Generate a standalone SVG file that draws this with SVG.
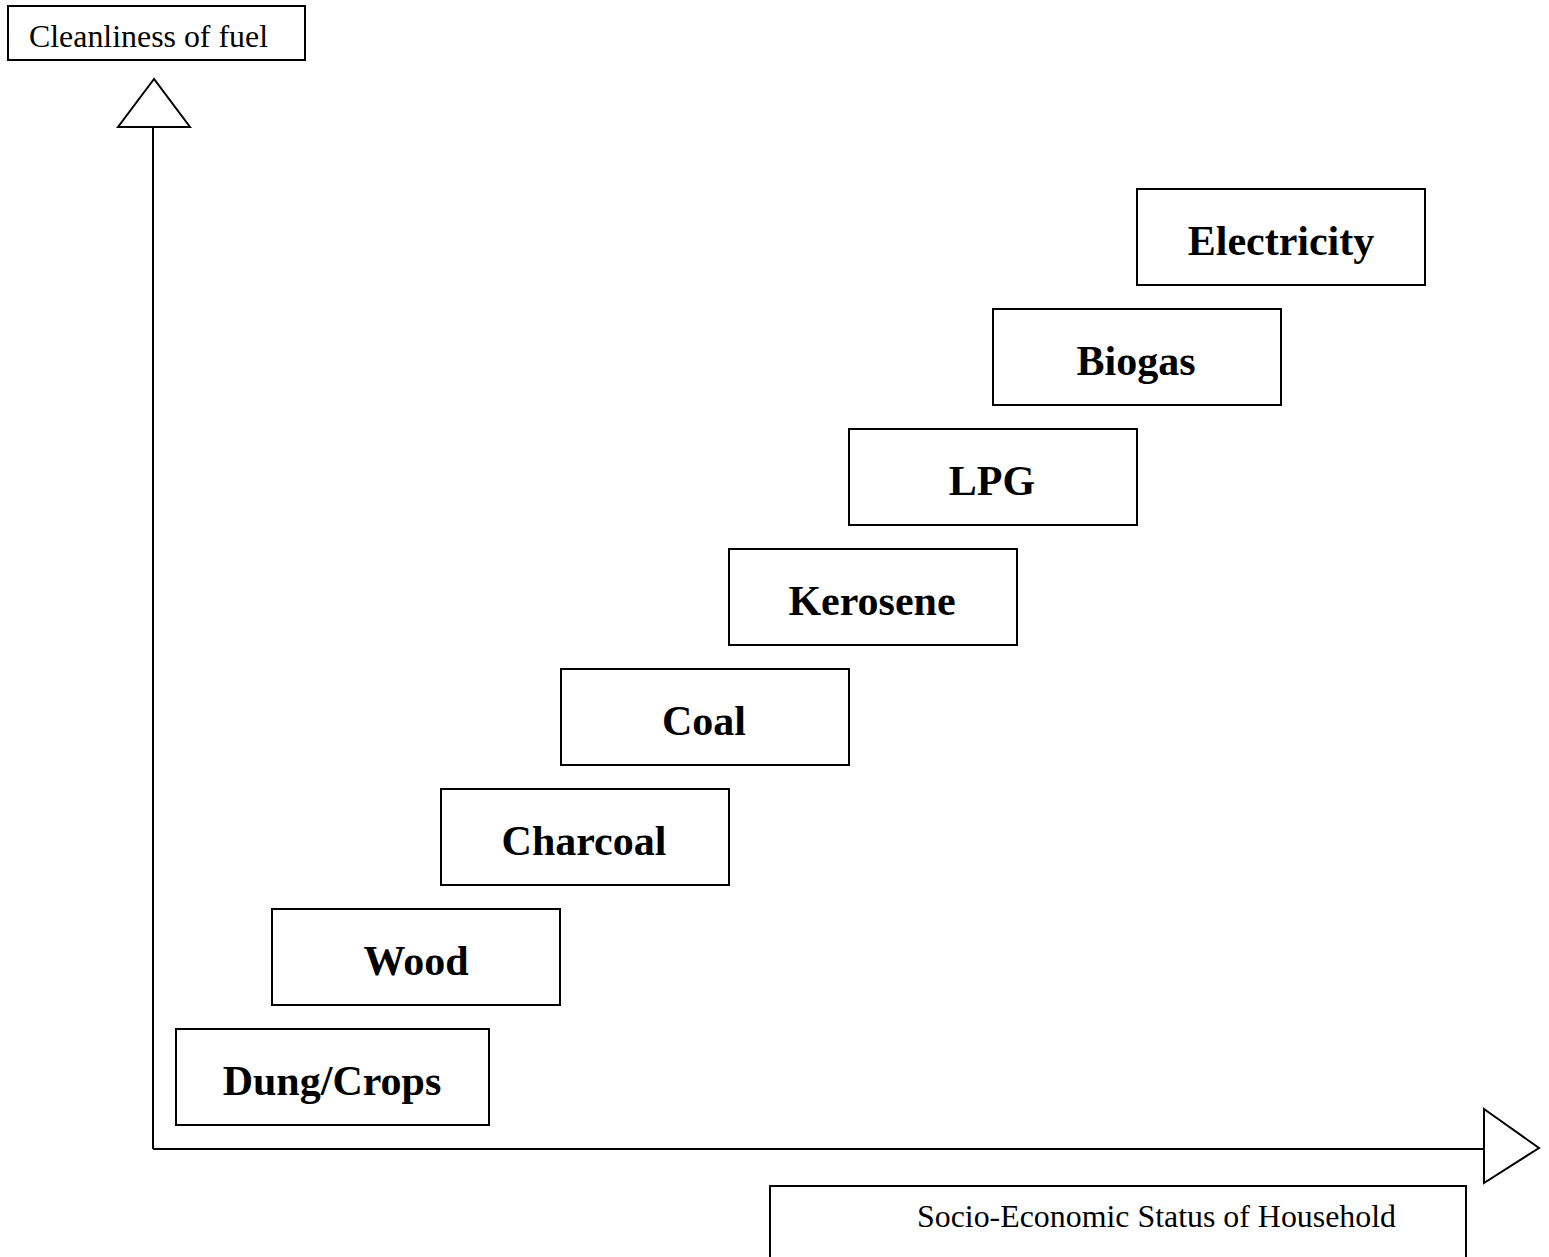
<svg xmlns="http://www.w3.org/2000/svg" width="1549" height="1257" viewBox="0 0 1549 1257">
<style>
.box{fill:#fff;stroke:#000;stroke-width:2}
.ax{fill:none;stroke:#000;stroke-width:2}
.lbl{font-family:"Liberation Serif","Times New Roman",serif;font-weight:bold;font-size:42px;text-anchor:middle;fill:#000}
.ttl{font-family:"Liberation Serif","Times New Roman",serif;font-size:31px;fill:#000}
</style>
<rect width="1549" height="1257" fill="#fff"/>
<g id="connectors">
<line class="ax" x1="153" y1="126" x2="153" y2="1149"/>
<line class="ax" x1="153" y1="1149" x2="1484" y2="1149"/>
<polygon class="ax" points="154,79 118,127 190,127"/>
<polygon class="ax" points="1484,1109 1539,1148 1484,1183"/>
</g>
<g id="y-label"><rect class="box" x="8" y="6" width="297" height="54"/><text class="ttl" x="29" y="47" textLength="239" lengthAdjust="spacingAndGlyphs">Cleanliness of fuel</text></g>
<g id="x-label"><rect class="box" x="770" y="1186" width="696" height="80"/><text class="ttl" x="917" y="1227" textLength="479" lengthAdjust="spacingAndGlyphs">Socio-Economic Status of Household</text></g>
<g id="dung"><rect class="box" x="176" y="1029" width="313" height="96"/><text class="lbl" x="332" y="1095">Dung/Crops</text></g>
<g id="wood"><rect class="box" x="272" y="909" width="288" height="96"/><text class="lbl" x="416" y="975">Wood</text></g>
<g id="charcoal"><rect class="box" x="441" y="789" width="288" height="96"/><text class="lbl" x="584" y="855">Charcoal</text></g>
<g id="coal"><rect class="box" x="561" y="669" width="288" height="96"/><text class="lbl" x="704" y="735">Coal</text></g>
<g id="kerosene"><rect class="box" x="729" y="549" width="288" height="96"/><text class="lbl" x="872" y="615">Kerosene</text></g>
<g id="lpg"><rect class="box" x="849" y="429" width="288" height="96"/><text class="lbl" x="992" y="495">LPG</text></g>
<g id="biogas"><rect class="box" x="993" y="309" width="288" height="96"/><text class="lbl" x="1136" y="375">Biogas</text></g>
<g id="electricity"><rect class="box" x="1137" y="189" width="288" height="96"/><text class="lbl" x="1281" y="255">Electricity</text></g>
</svg>
